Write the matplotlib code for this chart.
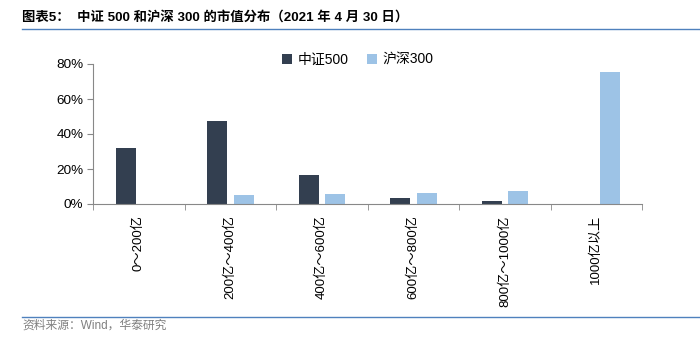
import matplotlib
matplotlib.use("Agg")
from matplotlib import pyplot as plt
from matplotlib.lines import Line2D
from matplotlib.ticker import FuncFormatter, FixedLocator
import numpy as np

# data
categories = ["0～200亿", "200亿～400亿", "400亿～600亿", "600亿～800亿", "800亿～1000亿", "1000亿以上"]
zz500 = [0.322, 0.474, 0.164, 0.034, 0.015, 0.0]
hs300 = [0.0, 0.051, 0.059, 0.061, 0.074, 0.756]
series_names = ["中证500", "沪深300"]
title = "图表5：  中证 500 和沪深 300 的市值分布（2021 年 4 月 30 日）"
source = "资料来源：Wind，华泰研究"

plt.rcParams['font.family'] = ['Liberation Sans', 'Noto Sans CJK SC', 'DejaVu Sans']

dark = "#333F50"
light = "#9DC3E6"

fig = plt.figure(figsize=(7, 3.46), dpi=100)
ax = fig.add_axes([93/700, 1-204/346, (642-93)/700, 140/346])

x = np.arange(len(categories))
w = 0.22
ax.bar(x - 0.142, zz500, w, color=dark, label=series_names[0])
ax.bar(x + 0.147, hs300, w, color=light, label=series_names[1])

ax.set_xlim(-0.5, len(categories) - 0.5)
ax.set_ylim(0, 0.8)
ax.set_yticks([0, 0.2, 0.4, 0.6, 0.8])
ax.yaxis.set_major_formatter(FuncFormatter(lambda v, p: f"{v*100:.0f}%"))
ax.set_xticks(x)
ax.set_xticklabels(categories, rotation=90, fontsize=9.5, va='top', ha='center')
ax.xaxis.set_minor_locator(FixedLocator(np.arange(-0.5, len(categories), 1.0)))
ax.tick_params(axis='x', which='major', length=0, pad=8)
ax.tick_params(axis='x', which='minor', length=4, color="#888888")
ax.tick_params(axis='y', length=4, color="#888888", labelsize=9.7, pad=3)
for s in ['top', 'right']:
    ax.spines[s].set_visible(False)
for s in ['left', 'bottom']:
    ax.spines[s].set_color("#888888")

ax.legend(loc='upper center', bbox_to_anchor=(0.482, 1.17), ncol=2, frameon=False,
          fontsize=10, handlelength=0.7, handleheight=0.7, handletextpad=0.4,
          columnspacing=1.35)

fig.text(22/700, 1-17/346, title, fontsize=9.6, fontweight='bold', va='center',
         family=['Liberation Sans', 'Noto Sans CJK SC'])
fig.add_artist(Line2D([22/700, 1.0], [1-29/346, 1-29/346], color="#4F81BD", lw=1))
fig.add_artist(Line2D([22/700, 1.0], [1-317/346, 1-317/346], color="#4F81BD", lw=1))
fig.text(22/700, 1-326/346, source, fontsize=8.5, color="#808080", va='center')

fig.savefig("out.png", dpi=100)
